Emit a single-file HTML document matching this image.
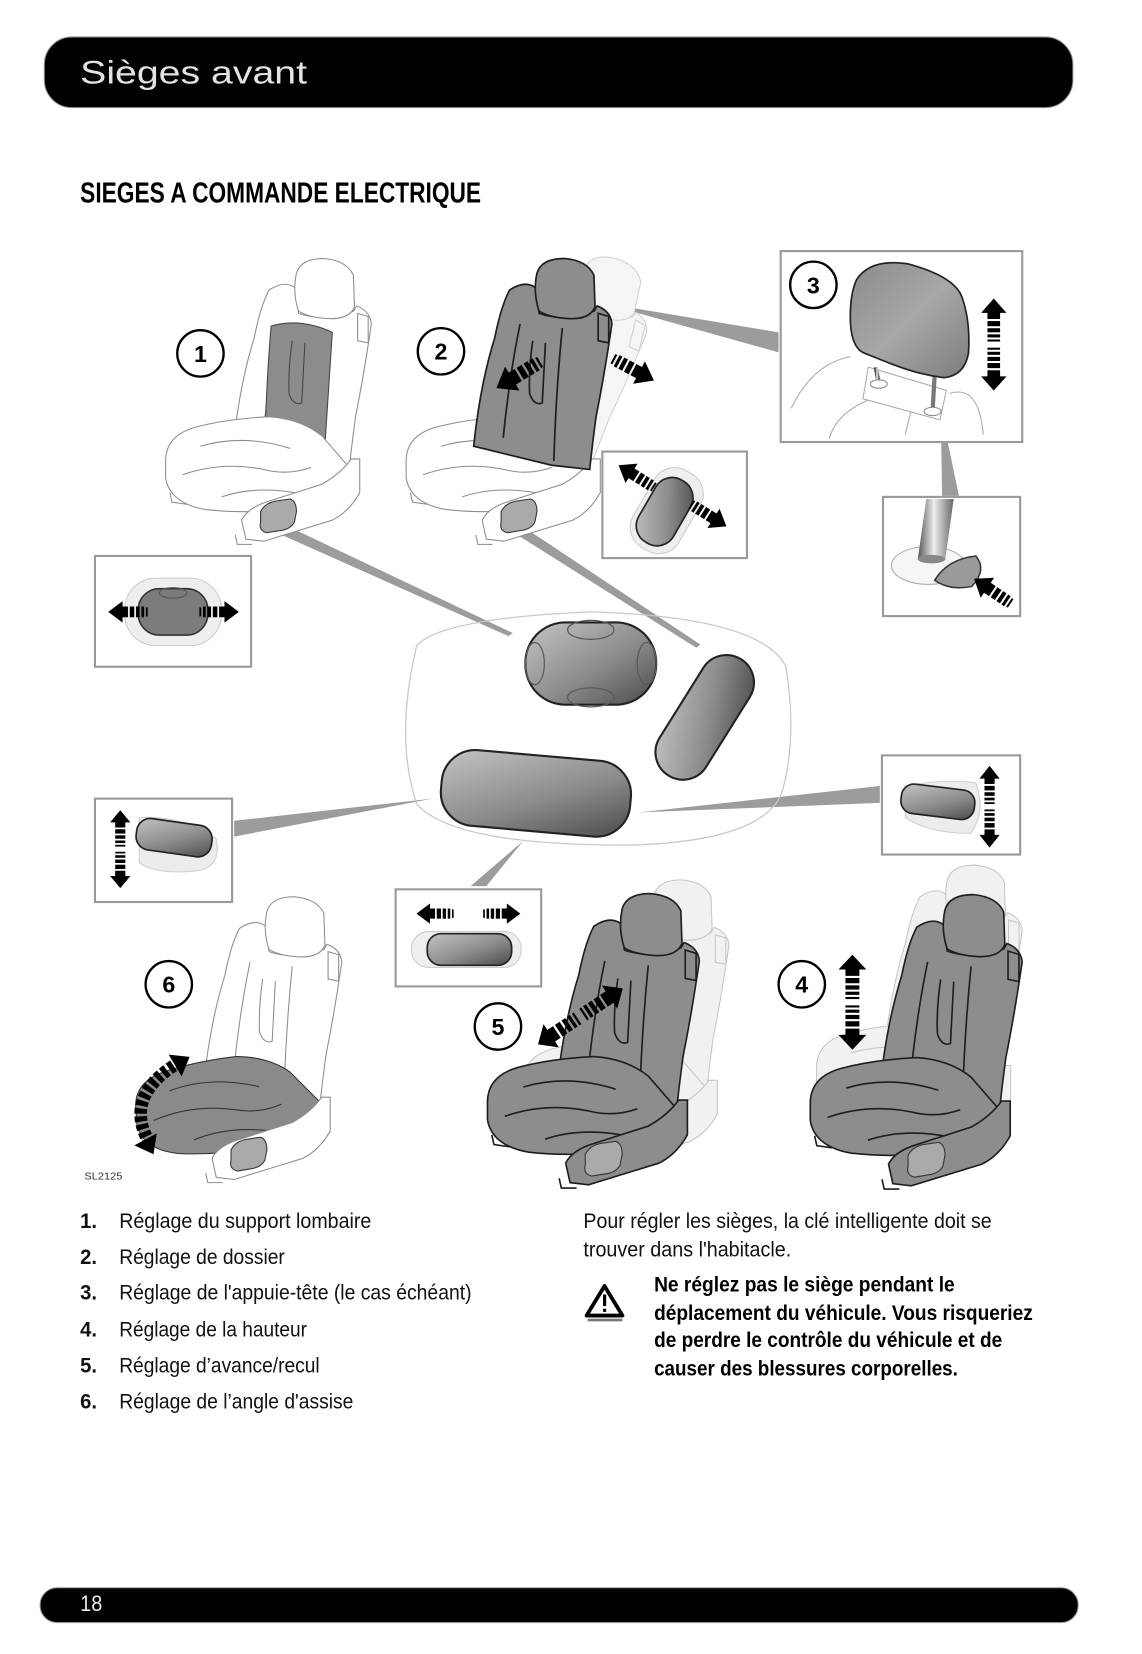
<!DOCTYPE html>
<html>
<head>
<meta charset="utf-8">
<style>
html,body{margin:0;padding:0;background:#fff;}
svg{display:block;}
text{font-family:"Liberation Sans",sans-serif;}
</style>
</head>
<body>
<svg width="1142" height="1654" viewBox="0 0 1082.5 1567.8" preserveAspectRatio="none" xmlns="http://www.w3.org/2000/svg" xmlns:xlink="http://www.w3.org/1999/xlink">
<defs>
  <linearGradient id="gD" x1="0" y1="0" x2="1" y2="1">
    <stop offset="0" stop-color="#c4c4c4"/><stop offset="0.55" stop-color="#8c8c8c"/><stop offset="1" stop-color="#4a4a4a"/>
  </linearGradient>
  <linearGradient id="gH" x1="0" y1="0" x2="1" y2="1">
    <stop offset="0" stop-color="#8a8a8a"/><stop offset="0.5" stop-color="#a8a8a8"/><stop offset="1" stop-color="#7c7c7c"/>
  </linearGradient>
  <linearGradient id="gPole" x1="0" y1="0" x2="1" y2="0">
    <stop offset="0" stop-color="#555"/><stop offset="0.45" stop-color="#eee"/><stop offset="1" stop-color="#666"/>
  </linearGradient>
  <path id="pB" d="M100,30 Q115,20 125,28 L128,52 Q150,60 180,50 L183,45 Q196,50 197,62 Q190,110 182,150 Q178,180 176,200 L140,196 L66,178 Q72,120 86,75 Q92,45 100,30 Z"/>
  <path id="pH" d="M126,14 Q130,0 152,0 Q174,2 180,16 L181,46 Q176,58 156,57 Q138,56 128,50 Q122,32 126,14 Z"/>
  <path id="pC" d="M2,192 Q2,168 30,160 Q60,152 100,150 Q130,152 150,168 L176,198 L178,214 Q170,226 145,232 Q95,244 40,238 Q6,232 2,208 Z"/>
  <path id="pS" d="M78,266 L74,248 Q80,236 100,230 L150,214 Q168,204 178,190 L186,190 L186,222 Q176,240 160,248 L95,268 Z"/>
  <path id="pSw" d="M92,240 Q96,232 106,230 L120,228 Q126,230 126,240 L124,250 Q120,257 110,258 L98,260 Q90,258 92,250 Z" fill="#aaa" stroke="#333" stroke-width="1"/>
  <path id="pP" d="M184,52 L194,55 L194,80 L184,78 Z"/>
  <path id="pLB" fill="none" d="M110,62 Q100,110 94,170 M150,66 Q144,125 142,192 M122,78 Q118,105 119,128 Q123,140 131,137 L134,80"/>
  <path id="pLC" fill="none" d="M18,205 Q55,192 95,200 Q118,206 140,198 M35,178 Q75,166 120,180 M55,226 Q90,214 135,224"/>
  <path id="pLF" fill="none" d="M6,222 L8,231 L22,233 M68,262 L70,271 L84,271"/>
  <g id="sBack"><use xlink:href="#pB"/><use xlink:href="#pLB"/><use xlink:href="#pP"/></g>
  <g id="sFront"><use xlink:href="#pLF"/><use xlink:href="#pC"/><use xlink:href="#pLC"/><use xlink:href="#pS"/><use xlink:href="#pSw"/></g>
  <g id="seat"><use xlink:href="#sBack"/><use xlink:href="#pH"/><use xlink:href="#sFront"/></g>
  <g id="arr">
    <rect x="0" y="-5" width="2" height="10"/><rect x="4" y="-6" width="3" height="12"/>
    <rect x="9" y="-6" width="4" height="12"/><rect x="15" y="-6" width="5" height="12"/>
    <path d="M22,-6 L28,-6 L28,-12 L44,0 L28,12 L28,6 L22,6 Z"/>
  </g>
  <g id="darr">
    <path d="M0,0 L14,-12 L14,-6 L20,-6 L20,6 L14,6 L14,12 Z"/>
    <rect x="22" y="-6" width="5" height="12"/><rect x="29" y="-6" width="4" height="12"/>
    <rect x="35" y="-6" width="3" height="12"/><rect x="40" y="-6" width="2" height="12"/>
    <rect x="48" y="-6" width="2" height="12"/><rect x="52" y="-6" width="3" height="12"/>
    <rect x="57" y="-6" width="4" height="12"/><rect x="63" y="-6" width="5" height="12"/>
    <path d="M70,-6 L76,-6 L76,-12 L90,0 L76,12 L76,6 L70,6 Z"/>
  </g>
</defs>

<!-- Header -->
<rect x="42" y="35" width="975" height="67" rx="26" fill="#000" stroke="#999" stroke-width="1"/>
<text x="76" y="79" font-size="31" fill="#dfe5e3" textLength="215" lengthAdjust="spacingAndGlyphs">Sièges avant</text>

<!-- Section title -->
<text x="76" y="192" font-size="27" font-weight="bold" fill="#000" textLength="380" lengthAdjust="spacingAndGlyphs">SIEGES A COMMANDE ELECTRIQUE</text>

<!-- ===== DIAGRAM ===== -->
<!-- connectors -->
<g fill="#9c9c9c">
  <polygon points="258,503 273,499 486,600 482,603"/>
  <polygon points="484,503 497,500 664,611 660,614"/>
  <polygon points="570,287 738,315 738,334"/>
  <polygon points="892,408 896,408 909,470 893,470"/>
  <polygon points="410,757 222,778 222,793"/>
  <polygon points="606,770 834,745 834,761"/>
  <polygon points="496,797 446,840 461,840"/>
</g>

<!-- center container -->
<path d="M395,612 Q418,586 560,580 Q722,585 745,632 Q756,700 741,752 Q722,797 600,801 Q430,802 395,762 Q374,700 395,612 Z" fill="none" stroke="#c8c8c8" stroke-width="1.2"/>
<!-- lumbar switch -->
<rect x="498" y="590" width="124" height="78" rx="38" fill="url(#gD)" stroke="#222" stroke-width="2"/>
<g fill="none" stroke="#5a5a5a" stroke-width="1.2">
  <ellipse cx="560" cy="597" rx="22" ry="9"/>
  <ellipse cx="560" cy="661" rx="22" ry="9"/>
  <ellipse cx="507" cy="629" rx="9" ry="20"/>
  <ellipse cx="613" cy="629" rx="9" ry="20"/>
</g>
<!-- backrest switch -->
<rect x="-65" y="-26" width="130" height="52" rx="26" transform="translate(668,680) rotate(-58)" fill="url(#gD)" stroke="#222" stroke-width="2"/>
<!-- seat switch -->
<rect x="-90" y="-36" width="180" height="72" rx="32" transform="translate(508,752) rotate(5)" fill="url(#gD)" stroke="#222" stroke-width="2"/>

<!-- Seat 1 -->
<g transform="translate(155,245)" stroke="#8c8c8c" stroke-width="1" fill="#fff">
  <use xlink:href="#sBack"/>
  <path d="M102,64 Q130,56 160,70 L152,192 L96,172 Q98,110 102,64 Z" fill="#8c8c8c" stroke="#444"/>
  <path d="M122,78 Q118,105 119,128 Q123,140 131,137 L134,80" fill="none" stroke="#444"/>
  <use xlink:href="#pH"/>
  <use xlink:href="#sFront"/>
</g>

<!-- Seat 2 -->
<g transform="translate(383,245)">
  <g transform="rotate(14,176,200)" fill="#f5f5f5" stroke="#d2d2d2" stroke-width="1">
    <use xlink:href="#sBack"/><use xlink:href="#pH"/>
  </g>
  <g fill="#fff" stroke="#8c8c8c" stroke-width="1"><use xlink:href="#sFront"/></g>
  <g fill="#8d8d8d" stroke="#1e1e1e" stroke-width="1.6">
    <use xlink:href="#sBack"/><use xlink:href="#pH"/>
  </g>
</g>

<!-- Seat 6 -->
<g transform="translate(127,850)" stroke="#8c8c8c" stroke-width="1" fill="#fff">
  <use xlink:href="#sBack"/><use xlink:href="#pH"/>
  <use xlink:href="#pLF"/>
  <g transform="rotate(-4,120,200)"><use xlink:href="#pC" fill="#8a8a8a" stroke="#333"/><use xlink:href="#pLC" stroke="#333"/></g>
  <use xlink:href="#pS"/><use xlink:href="#pSw"/>
</g>

<!-- Seat 5 -->
<g transform="translate(494,834)" fill="#f1f1f1" stroke="#c6c6c6" stroke-width="1"><use xlink:href="#seat"/></g>
<g transform="translate(460,847) scale(1.03)" fill="#8d8d8d" stroke="#1e1e1e" stroke-width="1.5"><use xlink:href="#seat"/></g>

<!-- Seat 4 -->
<g transform="translate(772,820)" fill="#f1f1f1" stroke="#c6c6c6" stroke-width="1"><use xlink:href="#seat"/></g>
<g transform="translate(766,848) scale(1.03)" fill="#8d8d8d" stroke="#1e1e1e" stroke-width="1.5"><use xlink:href="#seat"/></g>

<!-- Box lumbar -->
<rect x="90" y="527" width="148" height="105" fill="#fff" stroke="#999" stroke-width="2"/>
<rect x="118" y="548" width="92" height="64" rx="30" fill="#eee" stroke="#ccc"/>
<rect x="131" y="558" width="66" height="44" rx="20" fill="#7c7c7c" stroke="#333" stroke-width="1.5"/>
<ellipse cx="164" cy="562" rx="13" ry="5" fill="none" stroke="#555"/>
<use xlink:href="#arr" transform="translate(140,580) rotate(180) scale(0.85)"/>
<use xlink:href="#arr" transform="translate(189,580) scale(0.85)"/>

<!-- Box backrest -->
<rect x="571" y="428" width="137" height="101" fill="#fff" stroke="#999" stroke-width="2"/>
<rect x="-42" y="-25" width="84" height="50" rx="22" transform="translate(632,484) rotate(-60)" fill="#eee" stroke="#ccc"/>
<rect x="-34" y="-19" width="68" height="38" rx="18" transform="translate(630,485) rotate(-60)" fill="url(#gD)" stroke="#222" stroke-width="1.6"/>
<use xlink:href="#arr" transform="translate(620,462) rotate(212) scale(0.9)"/>
<use xlink:href="#arr" transform="translate(655,478) rotate(32) scale(0.9)"/>

<!-- Box 3 -->
<rect x="740" y="238" width="229" height="181" fill="#fff" stroke="#999" stroke-width="2"/>
<g fill="none" stroke="#aaa" stroke-width="1">
  <path d="M750,387 Q770,345 806,338"/>
  <path d="M786,416 Q794,385 845,372"/>
  <path d="M858,412 L864,388"/>
  <path d="M900,373 Q928,364 932,412"/>
  <polygon points="823,348 897,370 891,398 818,378" fill="#fff"/>
</g>
<line x1="830" y1="348" x2="833" y2="363" stroke="url(#gPole)" stroke-width="4"/>
<line x1="886" y1="355" x2="884" y2="389" stroke="#777" stroke-width="4"/>
<ellipse cx="833" cy="364" rx="8" ry="4" fill="#fff" stroke="#888"/>
<ellipse cx="884" cy="390" rx="8" ry="4" fill="#fff" stroke="#888"/>
<path d="M812,265 Q825,245 860,250 Q905,262 912,282 Q920,305 918,335 Q914,356 895,358 Q870,355 845,345 L820,335 Q806,330 806,300 Q806,278 812,265 Z" fill="url(#gH)" stroke="#222" stroke-width="1.6"/>
<use xlink:href="#darr" transform="translate(942,283) rotate(90) scale(0.97,1)"/>

<!-- Box headrest button -->
<rect x="837" y="471" width="130" height="113" fill="#fff" stroke="#999" stroke-width="2"/>
<ellipse cx="880" cy="536" rx="35" ry="18" fill="#f6f6f6" stroke="#aaa"/>
<path d="M878,473 L904,473 L896,530 L870,530 Z" fill="url(#gPole)"/>
<ellipse cx="883" cy="530" rx="13" ry="4" fill="#888"/>
<path d="M886,550 Q898,530 925,527 Q936,540 921,556 Q900,560 886,550 Z" fill="#9a9a9a" stroke="#333" stroke-width="1.4"/>
<use xlink:href="#arr" transform="translate(958,572) rotate(214) scale(0.95)"/>

<!-- Box left (tilt) -->
<rect x="90" y="757" width="130" height="98" fill="#fff" stroke="#999" stroke-width="2"/>
<path d="M132,775 Q170,772 205,795 Q210,820 190,825 Q150,830 132,818 Z" fill="#ececec" stroke="#d0d0d0"/>
<rect x="-36" y="-15" width="72" height="30" rx="13" transform="translate(165,794) rotate(8)" fill="url(#gD)" stroke="#222" stroke-width="1.6"/>
<use xlink:href="#darr" transform="translate(114,768) rotate(90) scale(0.82,0.8)"/>

<!-- Box right (height) -->
<rect x="836" y="716" width="131" height="94" fill="#fff" stroke="#999" stroke-width="2"/>
<path d="M858,745 Q895,738 925,742 Q935,770 920,790 Q880,790 858,775 Z" fill="#ececec" stroke="#d0d0d0"/>
<rect x="-35" y="-14" width="70" height="28" rx="12" transform="translate(889,760) rotate(7)" fill="url(#gD)" stroke="#222" stroke-width="1.6"/>
<use xlink:href="#darr" transform="translate(938,726) rotate(90) scale(0.86,0.8)"/>

<!-- Box 5 -->
<rect x="375" y="843" width="138" height="92" fill="#fff" stroke="#999" stroke-width="2"/>
<rect x="390" y="883" width="104" height="34" rx="16" fill="#eee" stroke="#ccc"/>
<rect x="405" y="885" width="80" height="30" rx="13" fill="url(#gD)" stroke="#222" stroke-width="1.6"/>
<use xlink:href="#arr" transform="translate(430,866) rotate(180) scale(0.8)"/>
<use xlink:href="#arr" transform="translate(458,866) scale(0.8)"/>

<!-- seat arrows -->
<use xlink:href="#arr" transform="translate(512,343) rotate(149) scale(1.1)"/>
<use xlink:href="#arr" transform="translate(581,340) rotate(28) scale(1.0)"/>
<use xlink:href="#darr" transform="translate(510,990) rotate(-33.5) scale(1.07,1.1)"/>
<use xlink:href="#darr" transform="translate(808,905) rotate(90) scale(1,1.1)"/>
<path d="M142,1084 Q116,1040 168,1008" fill="none" stroke="#000" stroke-width="12" stroke-dasharray="5 2.5"/>
<path d="M0,-12 L16,0 L0,12 Z" transform="translate(166,1010) rotate(-31)"/>
<path d="M0,-12 L16,0 L0,12 Z" transform="translate(138,1080) rotate(62)"/>

<!-- number circles -->
<g fill="#fff" stroke="#000" stroke-width="2.2">
  <circle cx="190" cy="335" r="22"/>
  <circle cx="418" cy="333" r="22"/>
  <circle cx="771" cy="270" r="22"/>
  <circle cx="760" cy="933" r="22"/>
  <circle cx="472" cy="973" r="22"/>
  <circle cx="160" cy="933" r="22"/>
</g>
<g font-size="22" font-weight="bold" text-anchor="middle" fill="#000">
  <text x="190" y="343">1</text>
  <text x="418" y="341">2</text>
  <text x="771" y="278">3</text>
  <text x="760" y="941">4</text>
  <text x="472" y="981">5</text>
  <text x="160" y="941">6</text>
</g>
<text x="80" y="1118" font-size="10" fill="#333" textLength="36" lengthAdjust="spacingAndGlyphs">SL2125</text>

<!-- ===== LIST ===== -->
<g font-size="20" fill="#111">
  <text x="76" y="1164" font-weight="bold" textLength="16" lengthAdjust="spacingAndGlyphs">1.</text>
  <text x="113" y="1164" textLength="239" lengthAdjust="spacingAndGlyphs">Réglage du support lombaire</text>
  <text x="76" y="1198" font-weight="bold" textLength="16" lengthAdjust="spacingAndGlyphs">2.</text>
  <text x="113" y="1198" textLength="157" lengthAdjust="spacingAndGlyphs">Réglage de dossier</text>
  <text x="76" y="1232" font-weight="bold" textLength="16" lengthAdjust="spacingAndGlyphs">3.</text>
  <text x="113" y="1232" textLength="334" lengthAdjust="spacingAndGlyphs">Réglage de l'appuie-tête (le cas échéant)</text>
  <text x="76" y="1267" font-weight="bold" textLength="16" lengthAdjust="spacingAndGlyphs">4.</text>
  <text x="113" y="1267" textLength="178" lengthAdjust="spacingAndGlyphs">Réglage de la hauteur</text>
  <text x="76" y="1301" font-weight="bold" textLength="16" lengthAdjust="spacingAndGlyphs">5.</text>
  <text x="113" y="1301" textLength="190" lengthAdjust="spacingAndGlyphs">Réglage d’avance/recul</text>
  <text x="76" y="1335" font-weight="bold" textLength="16" lengthAdjust="spacingAndGlyphs">6.</text>
  <text x="113" y="1335" textLength="222" lengthAdjust="spacingAndGlyphs">Réglage de l’angle d'assise</text>

  <text x="553" y="1164" textLength="387" lengthAdjust="spacingAndGlyphs">Pour régler les sièges, la clé intelligente doit se</text>
  <text x="553" y="1191" textLength="197" lengthAdjust="spacingAndGlyphs">trouver dans l'habitacle.</text>
</g>
<g font-size="20" font-weight="bold" fill="#000">
  <text x="620" y="1224" textLength="285" lengthAdjust="spacingAndGlyphs">Ne réglez pas le siège pendant le</text>
  <text x="620" y="1251" textLength="359" lengthAdjust="spacingAndGlyphs">déplacement du véhicule. Vous risqueriez</text>
  <text x="620" y="1277" textLength="330" lengthAdjust="spacingAndGlyphs">de perdre le contrôle du véhicule et de</text>
  <text x="620" y="1304" textLength="288" lengthAdjust="spacingAndGlyphs">causer des blessures corporelles.</text>
</g>
<!-- warning icon -->
<path d="M573,1219 L590,1247 L556,1247 Z" fill="#fff" stroke="#000" stroke-width="3.6" stroke-linejoin="round"/>
<rect x="557" y="1250" width="33" height="2.5" fill="#777"/>
<rect x="571.6" y="1227" width="3" height="11" fill="#000"/>
<rect x="571.6" y="1240.5" width="3" height="3" fill="#000"/>

<!-- Footer -->
<rect x="38" y="1505" width="984" height="33" rx="16" fill="#000" stroke="#999" stroke-width="1"/>
<text x="76" y="1527" font-size="21" fill="#e6eaea" textLength="21" lengthAdjust="spacingAndGlyphs">18</text>
</svg>
</body>
</html>
